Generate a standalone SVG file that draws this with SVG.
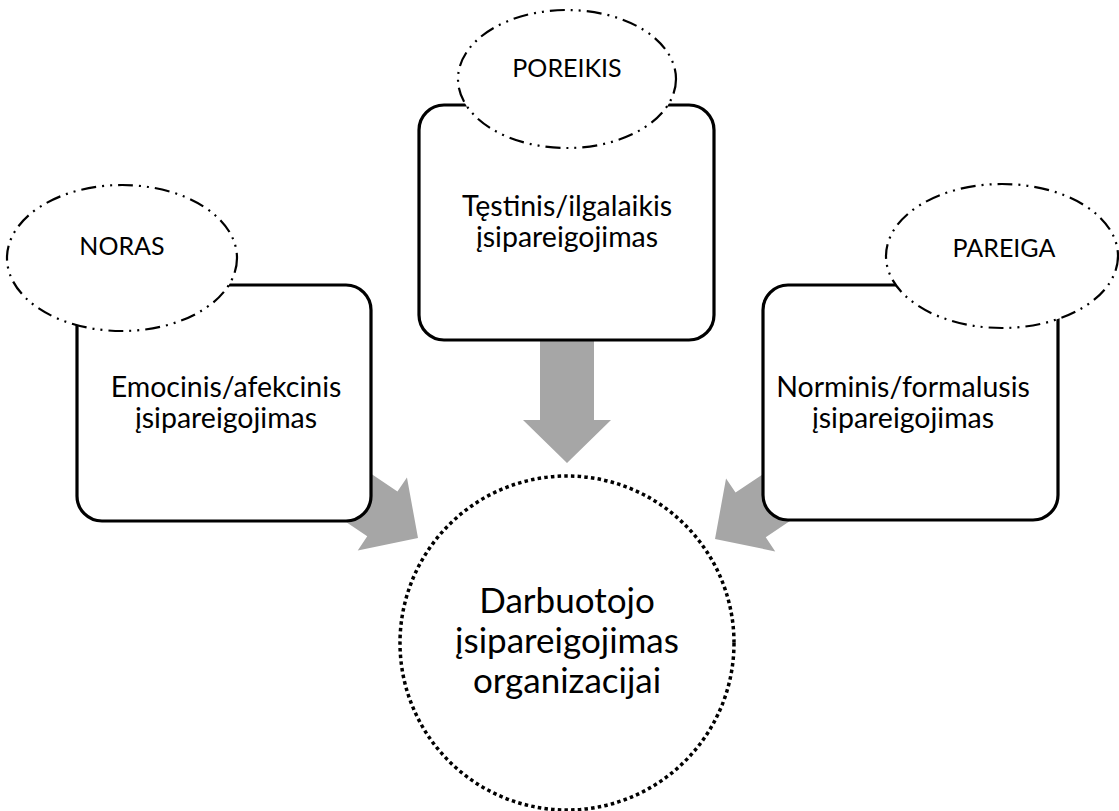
<svg xmlns="http://www.w3.org/2000/svg" width="1119" height="811" viewBox="0 0 1119 811">
  <style>
    .box { fill: #ffffff; stroke: #000000; stroke-width: 3.2; }
    .tag { fill: #ffffff; stroke: #000000; stroke-width: 2.2; stroke-dasharray: 15 6 2 6 2 6; }
    .core { fill: #ffffff; stroke: #000000; stroke-width: 3.5; stroke-dasharray: 3.5 3.2; }
    .arrow { fill: #a6a6a6; }
    text { font-family: Lato, "Open Sans", "Liberation Sans", sans-serif; fill: #000000; text-anchor: middle; }
    .lbl { font-size: 28.5px; }
    .tagtxt { font-size: 25px; }
    .big { font-size: 35px; }
  </style>
  <defs>
    <!-- block arrow pointing along +x, tip at origin -->
    <path id="blockArrow" d="M0,0 L-43,-44 L-43,-27 L-140,-27 L-140,27 L-43,27 L-43,44 Z"/>
  </defs>

  <!-- connectors (drawn beneath the boxes) -->
  <g id="connectors" class="arrow">
    <use href="#blockArrow" transform="translate(567,463) rotate(90)"/>
    <use href="#blockArrow" transform="translate(418,538) rotate(34)"/>
    <use href="#blockArrow" transform="translate(715,539) rotate(146)"/>
  </g>

  <g id="emocinis">
    <rect class="box" x="77" y="285" width="294" height="236" rx="25"/>
    <text class="lbl" x="226" y="397">Emocinis/afekcinis</text>
    <text class="lbl" x="226" y="428">įsipareigojimas</text>
  </g>
  <g id="noras">
    <ellipse class="tag" cx="122" cy="258" rx="115" ry="73"/>
    <text class="tagtxt" x="122" y="255">NORAS</text>
  </g>

  <g id="testinis">
    <rect class="box" x="419" y="105" width="295" height="235" rx="25"/>
    <text class="lbl" x="567" y="216">Tęstinis/ilgalaikis</text>
    <text class="lbl" x="567" y="247">įsipareigojimas</text>
  </g>
  <g id="poreikis">
    <ellipse class="tag" cx="567" cy="79" rx="109" ry="69"/>
    <text class="tagtxt" x="567" y="77">POREIKIS</text>
  </g>

  <g id="norminis">
    <rect class="box" x="763" y="285" width="295" height="235" rx="25"/>
    <text class="lbl" x="903" y="397">Norminis/formalusis</text>
    <text class="lbl" x="903" y="428">įsipareigojimas</text>
  </g>
  <g id="pareiga">
    <ellipse class="tag" cx="1002" cy="256" rx="116" ry="72"/>
    <text class="tagtxt" x="1004" y="257">PAREIGA</text>
  </g>

  <g id="darbuotojo">
    <circle class="core" cx="567" cy="643" r="167"/>
    <text class="big" x="567" y="613">Darbuotojo</text>
    <text class="big" x="567" y="653">įsipareigojimas</text>
    <text class="big" x="567" y="693">organizacijai</text>
  </g>
</svg>
